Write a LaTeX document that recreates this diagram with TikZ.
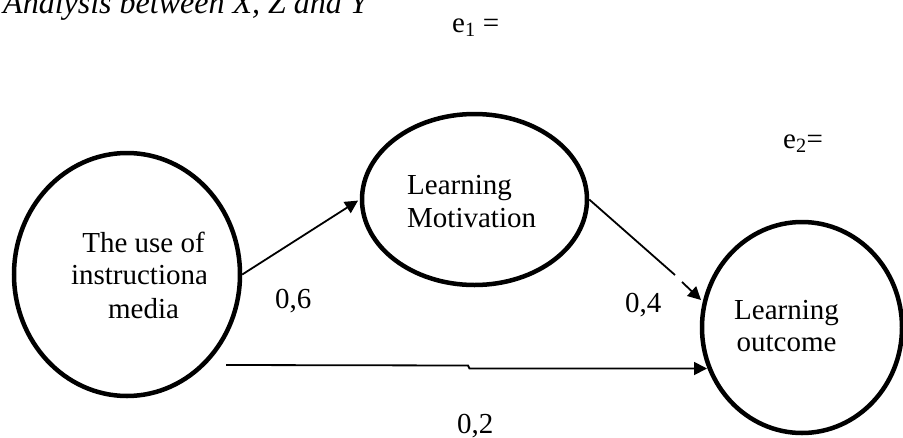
\documentclass[tikz,border=0pt]{standalone}
\usepackage{fontspec}
\setmainfont{Liberation Serif}
\usetikzlibrary{arrows.meta,shapes.geometric}
\begin{document}
\begin{tikzpicture}[x=1pt,y=-1pt,
  oval/.style={draw,ellipse,line width=4.5pt,inner sep=0pt},
  conn/.style={line width=1.8pt},
  tip/.style={-{Triangle[length=13pt,width=13pt]}},
  txt/.style={inner sep=0pt,font=\fontsize{29}{33}\selectfont},
  lbl/.style={txt,anchor=base west}]
\useasboundingbox (0,0) rectangle (903,437);
% title
\node[anchor=base west,inner sep=0pt,font=\fontsize{32}{36}\selectfont\itshape] (title) at (3,13) {Analysis between X, Z and Y};
% ellipses
\node[oval,minimum width=226pt,minimum height=243pt] (use) at (127,274.5) {};
\node[oval,minimum width=225pt,minimum height=171pt] (mot) at (474.5,199.5) {};
\node[oval,minimum width=200pt,minimum height=211pt] (out) at (802,327.5) {};
% texts
\begin{scope}
\clip (0,100) rectangle (205,420);
\node[txt,anchor=base] (u1) at (143.5,252) {The use of};
\node[txt,anchor=base] (u2) at (143.5,284) {instructional};
\node[txt,anchor=base] (u3) at (143.5,318) {media};
\end{scope}
\node[lbl] (m1) at (407,194) {Learning};
\node[lbl] (m2) at (407,227) {Motivation};
\node[txt,anchor=base] (o1) at (786.5,319) {Learning};
\node[txt,anchor=base] (o2) at (786.5,351) {outcome};
% labels
\node[lbl] (l6) at (275,308) {0,6};
\node[lbl] (l4) at (625,312) {0,4};
\node[lbl] (l2) at (457,433) {0,2};
\node[lbl] (e1) at (452,32) {e\textsubscript{1} =};
\node[lbl] (e2) at (783,148) {e\textsubscript{2}=};
% connectors
\draw[conn,tip,shorten >=2pt] (use.east) -- (mot.west);
\coordinate (g1) at (675,275);
\coordinate (g2) at (682,282);
\coordinate (t2) at (701,300);
\draw[conn] (mot.east) -- (g1);
\draw[conn,tip] (g2) -- (t2);
\coordinate (b0) at (226,365);
\coordinate (b1) at (468,365.5);
\coordinate (b2) at (469.5,368.5);
\coordinate (t3) at (707,368.5);
\draw[conn,tip] (b0) -- (b1) -- (b2) -- (t3);
\end{tikzpicture}
\end{document}
